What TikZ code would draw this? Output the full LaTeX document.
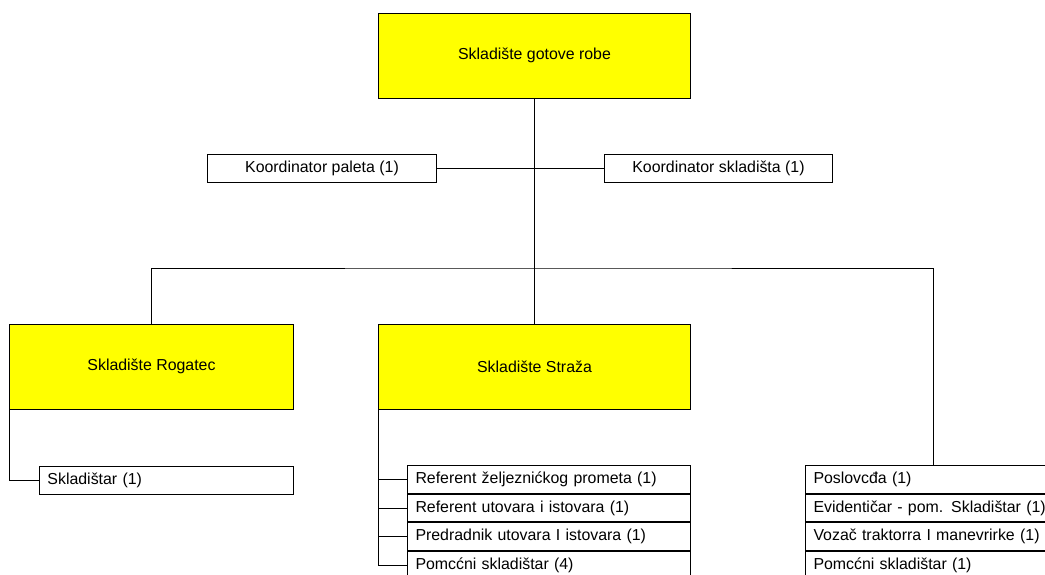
\documentclass[tikz,border=0pt]{standalone}
\usepackage{fontspec}
\setmainfont{Liberation Sans}
\usetikzlibrary{positioning}
\definecolor{unityellow}{RGB}{255,255,0}

\begin{document}
\begin{tikzpicture}[x=0.025cm,y=-0.025cm,line width=0.7pt,
    font=\fontsize{11.3}{13}\selectfont,
    unitbox/.style={draw,fill=unityellow,minimum width=7.775cm,minimum height=2.125cm,inner sep=0pt},
    coordbox/.style={draw,fill=white,minimum width=5.7cm,minimum height=0.7cm,inner sep=0pt},
    rolebox/.style={draw,fill=white,minimum height=0.692cm,inner ysep=0pt,inner xsep=0.2cm,
        align=left,anchor=north west}]

    % frame of the page
    \useasboundingbox (0,0) rectangle (1045,574);
    \clip (0,0) rectangle (1045,574);

    % head and coordinators
    \node [unitbox] (robe) at (534.5,55.5) {Skladište gotove robe};
    \node [coordbox] (kpal) at (322,168) {Koordinator paleta (1)};
    \node [coordbox] (kskl) at (718.5,168) {Koordinator skladišta (1)};

    % warehouses
    \node [unitbox,minimum width=7.075cm] (rogatec) at (151.5,366.5) {Skladište Rogatec};
    \node [unitbox] (straza) at (534.5,366.5) {Skladište Straža};

    % Rogatec staff
    \node [rolebox,text width=5.95cm,minimum height=0.7cm] (rskl) at (39,466) {Skladištar (1)};

    % Straza staff
    \node [rolebox,text width=6.675cm] (s1) at (407,465) {Referent željeznićkog prometa (1)};
    \node [rolebox,text width=6.675cm,below=0pt of s1] (s2) {Referent utovara i istovara (1)};
    \node [rolebox,text width=6.675cm,below=0pt of s2] (s3) {Predradnik utovara I istovara (1)};
    \node [rolebox,text width=6.675cm,below=0pt of s3] (s4) {Pomcćni skladištar (4)};

    % third group
    \node [rolebox,text width=5.975cm] (p1) at (805,465) {Poslovcđa (1)};
    \node [rolebox,text width=5.975cm,below=0pt of p1] (p2) {Evidentičar - pom. Skladištar (1)};
    \node [rolebox,text width=5.975cm,below=0pt of p2] (p3) {Vozač traktorra I manevrirke (1)};
    \node [rolebox,text width=5.975cm,below=0pt of p3] (p4) {Pomcćni skladištar (1)};

    % connectors
    \coordinate (bus) at (534.5,268);
    \draw (kpal.east) -- (kskl.west);
    \draw (robe.south) -- (straza.north);
    \draw (rogatec.north) |- (bus) -| (p1.north);
    \draw (rogatec.south west) |- (rskl.west);
    \draw (straza.south west) |- (s4.west);
    \foreach \r in {s1,s2,s3}
        \draw (straza.south west |- \r.west) -- (\r.west);

\end{tikzpicture}
\end{document}
